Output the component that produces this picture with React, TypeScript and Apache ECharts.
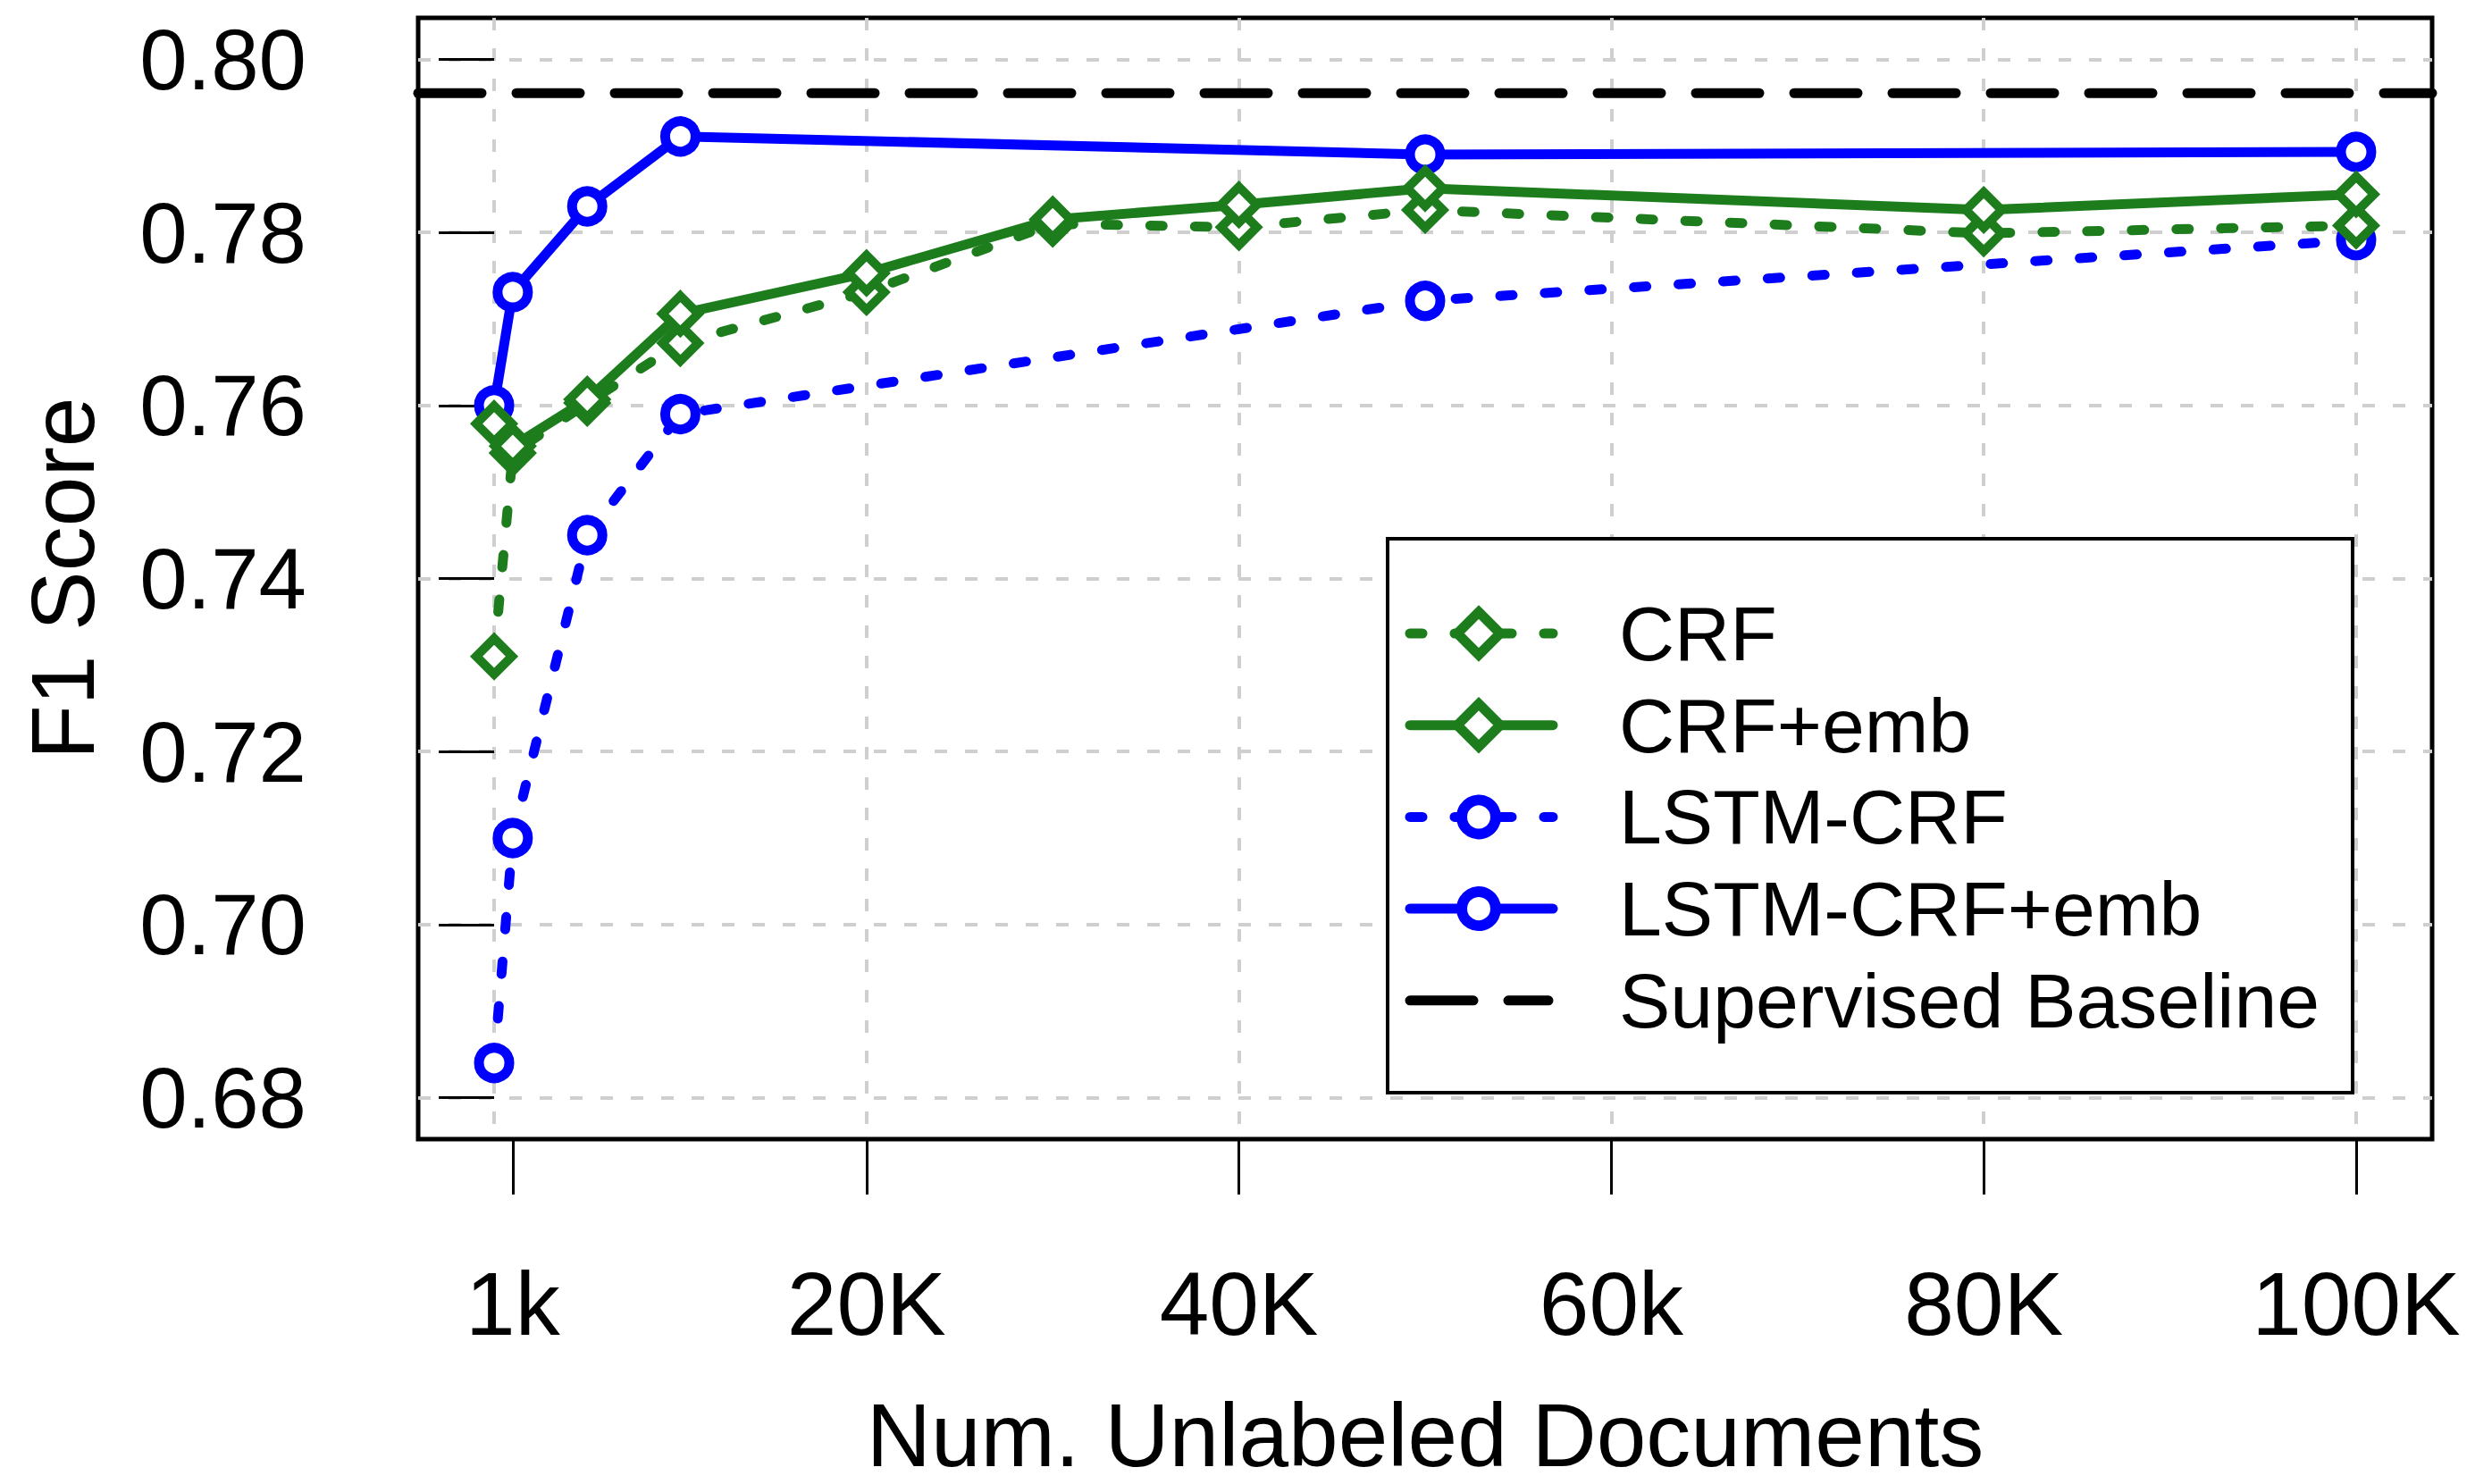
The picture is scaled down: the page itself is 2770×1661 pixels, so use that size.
import React, { useEffect, useRef } from "react";
import * as echarts from "echarts";

// ---------------- data ----------------
const X_VALUES = [0, 1000, 5000, 10000, 20000, 30000, 40000, 50000, 80000, 100000];
const CRF = [0.731, 0.7545, 0.7603, 0.7672, 0.7731, 0.781, 0.7806, 0.7826, 0.7799, 0.7808];
const CRF_EMB = [0.7579, 0.7553, 0.7607, 0.7706, 0.7753, 0.7815, 0.7832, 0.7851, 0.7826, 0.7844];
const LSTM_X = [0, 1000, 5000, 10000, 50000, 100000];
const LSTM_CRF = [0.684, 0.71, 0.745, 0.759, 0.7721, 0.7791];
const LSTM_CRF_EMB = [0.76, 0.7731, 0.783, 0.7911, 0.789, 0.7893];
const BASELINE = 0.7961;

const X_TICKS = [1000, 20000, 40000, 60000, 80000, 100000];
const X_TICK_LABELS = ["1k", "20K", "40K", "60k", "80K", "100K"];
const X_GRID = [0, 20000, 40000, 60000, 80000, 100000];
const Y_TICKS = [0.68, 0.7, 0.72, 0.74, 0.76, 0.78, 0.8];

const SERIES_NAMES = ["CRF", "CRF+emb", "LSTM-CRF", "LSTM-CRF+emb", "Supervised Baseline"];

// ---------------- style ----------------
const X_MIN = -4080;
const X_MAX = 104080;
const Y_MIN = 0.6752;
const Y_MAX = 0.8048;
const GREEN = "#1d7d1d";
const BLUE = "#0000ff";
const FONT = "'Liberation Sans', Arial, Helvetica, sans-serif";
const DOT: number[] = [14, 36];
const LONGDASH: number[] = [71, 39];

function zip(xs: number[], ys: number[]) {
  return xs.map((x, i) => [x, ys[i]]);
}

function makeSeries(name: string, xs: number[], ys: number[], color: string, symbol: string, dotted: boolean) {
  const isDiamond = symbol === "diamond";
  return {
    type: "line",
    name,
    data: zip(xs, ys),
    symbol,
    symbolSize: isDiamond ? 40 : 34,
    showAllSymbol: true,
    xAxisIndex: 0,
    yAxisIndex: 0,
    itemStyle: { color: "#ffffff", borderColor: color, borderWidth: isDiamond ? 10 : 11 },
    lineStyle: { color, width: 11, type: dotted ? DOT : "solid", cap: "round" },
    emphasis: { disabled: true },
    z: 3,
  };
}

function legendGraphics() {
  const boxX = 1553, boxY = 603, boxW = 1080, boxH = 620;
  const row0 = 709, rowGap = 102.7;
  const lineX1 = 1573, lineX2 = 1738, markX = 1655, textX = 1812;
  const specs = [
    { color: GREEN, dash: DOT, marker: "diamond", width: 11 },
    { color: GREEN, dash: null, marker: "diamond", width: 11 },
    { color: BLUE, dash: DOT, marker: "circle", width: 11 },
    { color: BLUE, dash: null, marker: "circle", width: 11 },
    { color: "#000000", dash: LONGDASH, marker: "none", width: 11 },
  ];
  const els: any[] = [
    {
      type: "rect",
      shape: { x: boxX, y: boxY, width: boxW, height: boxH },
      style: { fill: "#ffffff", stroke: "#000000", lineWidth: 4 },
      z: 100,
    },
  ];
  SERIES_NAMES.forEach((name, i) => {
    const s = specs[i];
    const y = row0 + i * rowGap;
    const style: any = { stroke: s.color, lineWidth: s.width, lineCap: "round" };
    if (s.dash) style.lineDash = s.dash;
    const lx2 = s.marker === "none" ? lineX2 - 5 : lineX2;
    els.push({ type: "line", shape: { x1: lineX1 + 5, y1: y, x2: lx2, y2: y }, style, z: 101 });
    if (s.marker === "diamond") {
      const h = 24;
      els.push({
        type: "polygon",
        shape: { points: [[markX, y - h], [markX + h, y], [markX, y + h], [markX - h, y]] },
        style: { fill: "#ffffff", stroke: s.color, lineWidth: 11 },
        z: 102,
      });
    } else if (s.marker === "circle") {
      els.push({
        type: "circle",
        shape: { cx: markX, cy: y, r: 19 },
        style: { fill: "#ffffff", stroke: s.color, lineWidth: 12 },
        z: 102,
      });
    }
    els.push({
      type: "text",
      style: {
        text: name,
        x: textX,
        y,
        fontSize: 86,
        fontFamily: FONT,
        fill: "#000000",
        verticalAlign: "middle",
        align: "left",
      },
      z: 103,
    });
  });
  return els;
}

export default function App() {
  const ref = useRef<HTMLDivElement>(null);
  useEffect(() => {
    if (!ref.current) return;
    const chart = echarts.init(ref.current, null, { renderer: "svg" });
    const gridSplit = { show: true, lineStyle: { color: "#cfcfcf", width: 4, type: [14, 20] } };
    const option: any = {
      animation: false,
      backgroundColor: "#ffffff",
      textStyle: { fontFamily: FONT },
      grid: {
        left: 468,
        right: 48,
        top: 20,
        bottom: 375,
        show: true,
        borderColor: "#000000",
        borderWidth: 5,
        backgroundColor: "transparent",
      },
      xAxis: [
        {
          type: "value",
          min: X_MIN,
          max: X_MAX,
          position: "bottom",
          name: "Num. Unlabeled Documents",
          nameLocation: "middle",
          nameGap: 281,
          nameTextStyle: { fontSize: 100, color: "#000", fontFamily: FONT },
          axisLine: { show: false },
          axisTick: {
            show: true,
            customValues: X_TICKS,
            length: 62,
            lineStyle: { color: "#000", width: 3 },
          },
          axisLabel: {
            customValues: X_TICKS,
            margin: 134,
            fontSize: 100,
            color: "#000",
            fontFamily: FONT,
            formatter: (v: number) => {
              const i = X_TICKS.indexOf(v);
              return i >= 0 ? X_TICK_LABELS[i] : "";
            },
          },
          splitLine: { show: false },
        },
        {
          type: "value",
          min: X_MIN,
          max: X_MAX,
          position: "top",
          axisLine: { show: false },
          axisTick: { show: false, customValues: X_GRID },
          axisLabel: { show: false, customValues: X_GRID },
          splitLine: gridSplit,
        },
      ],
      yAxis: [
        {
          type: "value",
          min: Y_MIN,
          max: Y_MAX,
          name: "F1 Score",
          nameLocation: "middle",
          nameGap: 348,
          nameRotate: 90,
          nameTextStyle: { fontSize: 100, color: "#000", fontFamily: FONT },
          axisLine: { show: false },
          axisTick: {
            show: true,
            customValues: Y_TICKS,
            length: 62,
            lineStyle: { color: "#000", width: 3 },
          },
          axisLabel: {
            customValues: Y_TICKS,
            margin: 125,
            fontSize: 96,
            color: "#000",
            fontFamily: FONT,
            formatter: (v: number) => v.toFixed(2),
          },
          splitLine: gridSplit,
        },
      ],
      series: [
        {
          type: "line",
          name: SERIES_NAMES[4],
          data: [
            [X_MIN, BASELINE],
            [X_MAX, BASELINE],
          ],
          symbol: "none",
          xAxisIndex: 0,
          yAxisIndex: 0,
          lineStyle: { color: "#000000", width: 11, type: LONGDASH, cap: "round" },
          emphasis: { disabled: true },
          z: 2,
        },
        makeSeries(SERIES_NAMES[2], LSTM_X, LSTM_CRF, BLUE, "circle", true),
        makeSeries(SERIES_NAMES[3], LSTM_X, LSTM_CRF_EMB, BLUE, "circle", false),
        makeSeries(SERIES_NAMES[0], X_VALUES, CRF, GREEN, "diamond", true),
        makeSeries(SERIES_NAMES[1], X_VALUES, CRF_EMB, GREEN, "diamond", false),
      ],
      graphic: legendGraphics(),
    };
    chart.setOption(option);
    return () => chart.dispose();
  }, []);
  return (
    <div
      ref={ref}
      style={{ position: "fixed", left: 0, top: 0, width: 2770, height: 1661, background: "#fff" }}
    />
  );
}
